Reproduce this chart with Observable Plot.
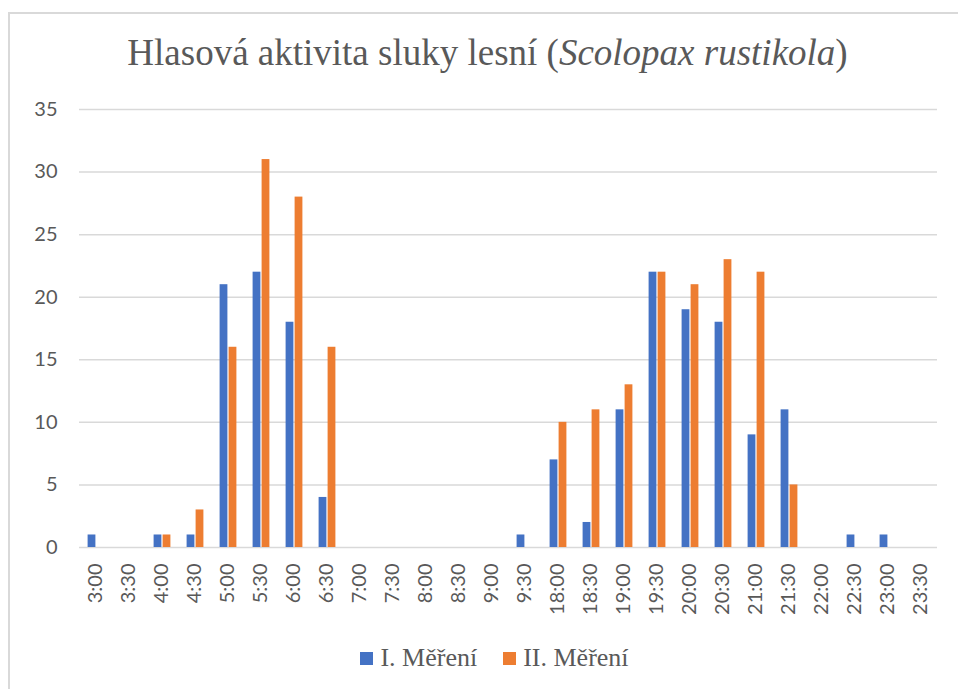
<!DOCTYPE html>
<html>
<head>
<meta charset="utf-8">
<script src="https://cdn.jsdelivr.net/npm/d3@7"></script>
<script src="https://cdn.jsdelivr.net/npm/@observablehq/plot@0.6"></script>
<style>
  html, body { margin: 0; padding: 0; background: #fff; }
  body { width: 958px; height: 689px; overflow: hidden; position: relative; }
  #frame { position: absolute; left: 8px; top: 12px; width: 1000px; height: 800px; border: 2px solid #d9d9d9; box-sizing: border-box; }
  #title { position: absolute; left: 0; top: 34px; width: 975px; text-align: center; font-size: 37px; line-height: 37px; color: #595959; white-space: nowrap; }
  #chart { position: absolute; left: 0; top: 90px; }
  #legend { position: absolute; left: 0; top: 643px; width: 989px; display: flex; justify-content: center; gap: 26px; font-size: 26px; line-height: 30px; color: #595959; }
  .item { display: flex; align-items: center; gap: 7px; }
  .sw { width: 13px; height: 13px; display: inline-block; }
</style>
</head>
<body>
<div id="frame"></div>
<div id="title" style="font-family: 'Liberation Serif', serif">Hlasová aktivita sluky lesní (<i>Scolopax rustikola</i>)</div>
<div id="chart"></div>
<div id="legend" style="font-family: 'Liberation Serif', serif"></div>
<script>
const categories = ["3:00","3:30","4:00","4:30","5:00","5:30","6:00","6:30","7:00","7:30","8:00","8:30","9:00","9:30","18:00","18:30","19:00","19:30","20:00","20:30","21:00","21:30","22:00","22:30","23:00","23:30"];
const seriesNames = ["I. Měření", "II. Měření"];
const mereniI  = [1,0,1,1,21,22,18,4,0,0,0,0,0,1,7,2,11,22,19,18,9,11,0,1,1,0];
const mereniII = [0,0,1,3,16,31,28,16,0,0,0,0,0,0,10,11,13,22,21,23,22,5,0,0,0,0];
const seriesColors = ["#4472C4", "#ED7D31"];
const yTicks = [0,5,10,15,20,25,30,35];

const data = categories.flatMap((c, i) => [
  {cas: c, serie: seriesNames[0], value: mereniI[i]},
  {cas: c, serie: seriesNames[1], value: mereniII[i]}
]);

const chart = Plot.plot({
  width: 958,
  height: 530,
  marginTop: 19,
  marginBottom: 73,
  marginLeft: 73,
  marginRight: 16,
  style: {fontFamily: "Lato, sans-serif", fontSize: "20px", color: "#595959", background: "transparent", overflow: "visible"},
  fx: {domain: categories, padding: 0, label: null},
  x: {domain: seriesNames, paddingInner: 0, paddingOuter: 0.81, axis: null},
  y: {domain: [0, 35], ticks: yTicks, label: null},
  color: {domain: seriesNames, range: seriesColors},
  marks: [
    Plot.ruleY(yTicks, {stroke: "#d9d9d9", strokeWidth: 1.5}),
    Plot.barY(data, {fx: "cas", x: "serie", y: "value", fill: "serie", insetLeft: 0.6, insetRight: 0.6}),
    Plot.axisY({ticks: yTicks, tickSize: 0, tickPadding: 22, fontSize: 20, label: null, facetAnchor: "left"}),
    Plot.axisFx({anchor: "bottom", tickRotate: -90, tickSize: 0, tickPadding: 16, fontSize: 20, label: null})
  ]
});
document.getElementById("chart").appendChild(chart);

const legend = document.getElementById("legend");
seriesNames.forEach((name, i) => {
  const item = document.createElement("div");
  item.className = "item";
  const sw = document.createElement("span");
  sw.className = "sw";
  sw.style.background = seriesColors[i];
  const t = document.createElement("span");
  t.textContent = name;
  item.appendChild(sw);
  item.appendChild(t);
  legend.appendChild(item);
});
</script>
</body>
</html>
